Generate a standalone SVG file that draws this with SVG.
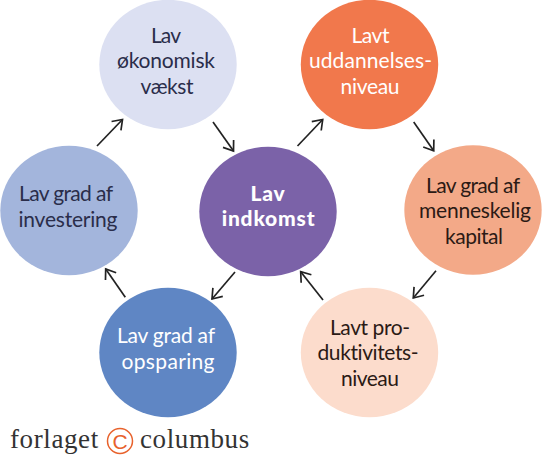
<svg xmlns="http://www.w3.org/2000/svg" width="550" height="458" viewBox="0 0 550 458">
<defs><marker id="a" markerUnits="userSpaceOnUse" markerWidth="18" markerHeight="18" refX="15" refY="9" orient="auto"><path d="M6 2.500L15 9L6 15.500" fill="none" stroke="#222" stroke-width="1.700"/></marker></defs>
<style>
text{font-family:"Lato","Open Sans",sans-serif;font-size:21px;text-anchor:middle;font-variant-ligatures:none}
.c{fill:#2a2d4a}.r{fill:#2b1a15}
.w{fill:#fff}.b{font-weight:900;fill:#fff;font-size:21px;letter-spacing:.8px}
line{stroke:#222;stroke-width:1.700;marker-end:url(#a)}
.f{font-family:"Liberation Serif",serif;font-size:27px;fill:#333;text-anchor:start;letter-spacing:.6px}
</style>
<rect width="550" height="458" fill="#fff"/>
<g id="connectors">
<line x1="97" y1="146" x2="122.500" y2="119.500"/>
<line x1="213" y1="122" x2="233.500" y2="151"/>
<line x1="297.500" y1="146" x2="322.700" y2="119.500"/>
<line x1="413.700" y1="122" x2="433.700" y2="150.700"/>
<line x1="436" y1="270.700" x2="413.300" y2="298"/>
<line x1="323" y1="300" x2="300.700" y2="271.700"/>
<line x1="235" y1="272" x2="212" y2="299"/>
<line x1="125.300" y1="297.300" x2="105.700" y2="269"/>
</g>
<g id="n1"><ellipse cx="168" cy="64.500" rx="68.700" ry="64.700" fill="#dce0f2"/><text class="c" x="166" y="43" textLength="30">Lav</text><text class="c" x="166" y="68" textLength="98">økonomisk</text><text class="c" x="167" y="94" textLength="53">vækst</text></g>
<g id="n2"><ellipse cx="369.500" cy="64.500" rx="68.700" ry="64.700" fill="#f1784c"/><text class="w" x="370.500" y="43" textLength="38">Lavt</text><text class="w" x="370.500" y="68" textLength="123">uddannelses-</text><text class="w" x="370" y="94" textLength="59">niveau</text></g>
<g id="n3"><ellipse cx="473" cy="210" rx="68.700" ry="64.700" fill="#f3a988"/><text class="r" x="473" y="193" textLength="94">Lav grad af</text><text class="r" x="475" y="218" textLength="112">menneskelig</text><text class="r" x="474" y="244" textLength="58">kapital</text></g>
<g id="n4"><ellipse cx="369.500" cy="352.500" rx="68.700" ry="64.700" fill="#fcdccc"/><text class="r" x="370" y="335" textLength="80">Lavt pro-</text><text class="r" x="368" y="360" textLength="101">duktivitets-</text><text class="r" x="370" y="386" textLength="58">niveau</text></g>
<g id="n5"><ellipse cx="168" cy="352.500" rx="68.700" ry="64.700" fill="#5f86c4"/><text class="w" x="166" y="343" textLength="98">Lav grad af</text><text class="w" x="168" y="369" textLength="93">opsparing</text></g>
<g id="n6"><ellipse cx="69" cy="210.500" rx="68.700" ry="64.700" fill="#a3b5dc"/><text class="c" x="66" y="201" textLength="94">Lav grad af</text><text class="c" x="68" y="227" textLength="99">investering</text></g>
<g id="n7"><ellipse cx="268" cy="211.500" rx="68.700" ry="64.700" fill="#7b62a8"/><text class="b" x="268" y="201">Lav</text><text class="b" x="268.500" y="226">indkomst</text></g>
<g id="logo"><text class="f" x="10" y="448">forlaget</text><circle cx="120" cy="441" r="12.500" fill="none" stroke="#e8622c" stroke-width="1.500"/><text x="120" y="448.500" style="font-family:'Liberation Sans',sans-serif;font-size:21px;fill:#e8622c">C</text><text class="f" x="140" y="448">columbus</text></g>
</svg>
